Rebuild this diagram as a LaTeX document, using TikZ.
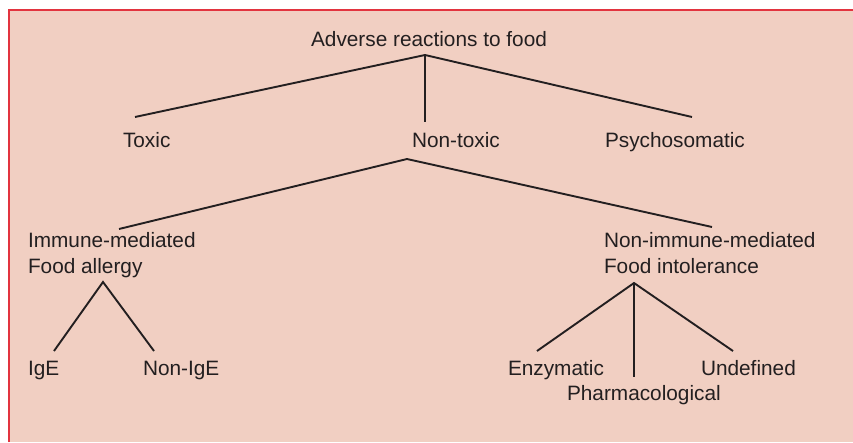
\documentclass[tikz,border=0pt]{standalone}
\usepackage{fontspec}
\setmainfont{Liberation Sans}
\definecolor{panelfill}{HTML}{F1CFC2}
\definecolor{panelred}{HTML}{E2343F}
\definecolor{inkdark}{HTML}{231F20}
\tikzset{
  lbl/.style={inner sep=0pt, outer sep=0pt, text=inkdark, font=\fontsize{20.8}{26}\selectfont},
  conn/.style={draw=inkdark, line width=1.9pt, line join=miter}
}
\begin{document}
\begin{tikzpicture}[x=1pt,y=-1pt]
\useasboundingbox (0,0) rectangle (853,442);
\fill[white] (0,0) rectangle (853,442);
\fill[panelfill] (9,10) rectangle (853,442);
\draw[panelred, line width=1.2pt] (9,442) -- (9,10) -- (853,10);

\node[lbl, anchor=base] (adverse) at (429,46) {Adverse reactions to food};
\node[lbl, anchor=base west] (toxic) at (123,147) {Toxic};
\node[lbl, anchor=base west] (nontoxic) at (412,147) {Non-toxic};
\node[lbl, anchor=base west] (psycho) at (605,147) {Psychosomatic};
\node[lbl, anchor=base west, align=left] (immune) at (28,273) {Immune-mediated\\Food allergy};
\node[lbl, anchor=base west, align=left] (nonimmune) at (604,273) {Non-immune-mediated\\Food intolerance};
\node[lbl, anchor=base west] (ige) at (28,375) {IgE};
\node[lbl, anchor=base west] (nonige) at (143,375) {Non-IgE};
\node[lbl, anchor=base west] (enzym) at (508,375) {Enzymatic};
\node[lbl, anchor=base west] (undef) at (701,375) {Undefined};
\node[lbl, anchor=base west] (pharma) at (567,400) {Pharmacological};

\coordinate (a0) at (425,55);
\coordinate (t0) at (135,117);
\coordinate (n0) at (425,122);
\coordinate (p0) at (692,117);
\coordinate (n1) at (407,159);
\coordinate (i0) at (119,229);
\coordinate (ni0) at (712,227);
\coordinate (i1) at (103,282);
\coordinate (ig0) at (54,351);
\coordinate (nig0) at (154,351);
\coordinate (ni1) at (634,283);
\coordinate (e0) at (537,351);
\coordinate (ph0) at (634,377);
\coordinate (u0) at (733,351);

\draw[conn] (t0) -- (a0) -- (p0);
\draw[conn] (a0) -- (n0);
\draw[conn] (i0) -- (n1) -- (ni0);
\draw[conn] (ig0) -- (i1) -- (nig0);
\draw[conn] (e0) -- (ni1) -- (u0);
\draw[conn] (ni1) -- (ph0);
\end{tikzpicture}
\end{document}
